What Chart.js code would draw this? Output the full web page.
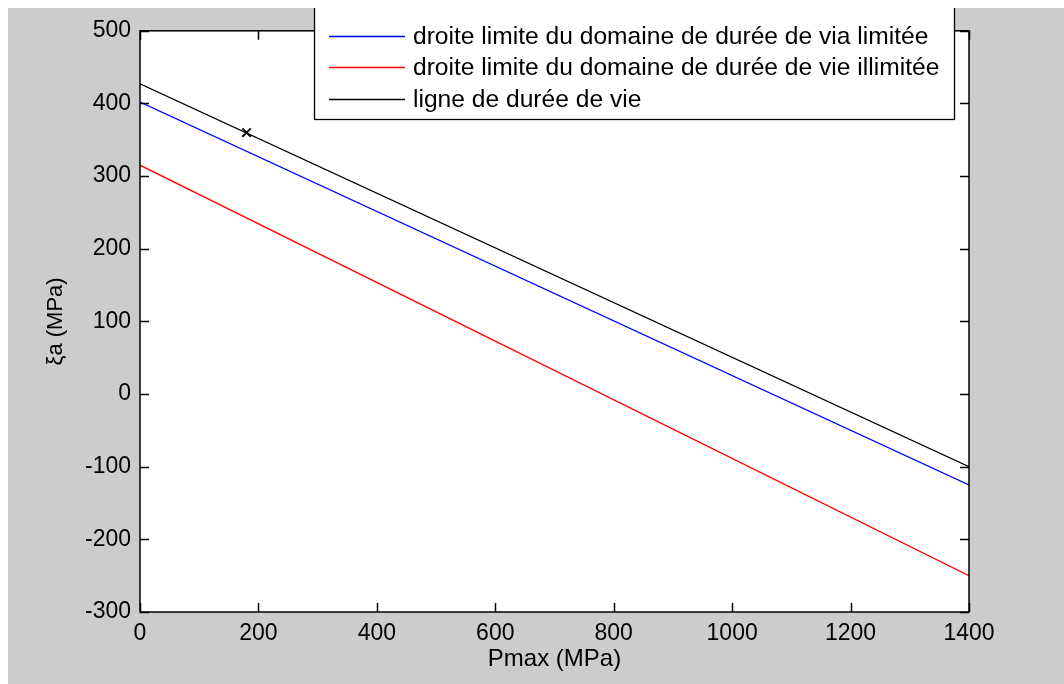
<!DOCTYPE html>
<html>
<head>
<meta charset="utf-8">
<script src="https://cdn.jsdelivr.net/npm/chart.js@4/dist/chart.umd.min.js"></script>
<style>
  html, body { overflow: hidden; }
  body { margin: 8px 0 0 8px; background: #fff; }
  #wrap { width: 1056px; height: 676px; background: #cccccc; }
</style>
</head>
<body>
<div id="wrap"><canvas id="chart"></canvas></div>
<script>
// values
const pmax = [0, 1400];
const limiteeVia = [402, -125];     // droite limite, durée de vie limitée
const illimitee = [315, -250];      // droite limite, durée de vie illimitée
const dureeVie = [427, -100];       // ligne de durée de vie
const pointPmax = [180];
const pointSa = [360];

const labels = [
    'droite limite du domaine de durée de via limitée',
    'droite limite du domaine de durée de vie illimitée',
    'ligne de durée de vie'
];

const FONT = 'Liberation Sans, Arial, sans-serif';

function toXY(xs, ys) {
    return xs.map((x, i) => ({ x: x, y: ys[i] }));
}

function lineSet(label, ys, color) {
    return {
        label: label,
        data: toXY(pmax, ys),
        showLine: true,
        borderColor: color,
        borderWidth: 1.3,
        pointRadius: 0,
        fill: false
    };
}

// white axes box, inward ticks on all four sides, and the legend box
const matlabFrame = {
    id: 'matlabFrame',
    beforeDraw(chart) {
        const { ctx, chartArea: a } = chart;
        ctx.save();
        ctx.fillStyle = '#ffffff';
        ctx.fillRect(a.left, a.top, a.right - a.left, a.bottom - a.top);
        ctx.restore();
    },
    afterDatasetsDraw(chart) {
        const { ctx, chartArea: a } = chart;
        const xs = chart.scales.x, ys = chart.scales.y;
        const tl = 9;
        ctx.save();
        ctx.strokeStyle = '#000';
        ctx.lineWidth = 1.5;
        ctx.beginPath();
        xs.ticks.forEach(t => {
            const px = Math.round(xs.getPixelForValue(t.value)) + 0.5;
            ctx.moveTo(px, a.bottom); ctx.lineTo(px, a.bottom - tl);
            ctx.moveTo(px, a.top); ctx.lineTo(px, a.top + tl);
        });
        ys.ticks.forEach(t => {
            const py = Math.round(ys.getPixelForValue(t.value)) + 0.5;
            ctx.moveTo(a.left, py); ctx.lineTo(a.left + tl, py);
            ctx.moveTo(a.right, py); ctx.lineTo(a.right - tl, py);
        });
        ctx.stroke();
        ctx.strokeRect(a.left, a.top, a.right - a.left, a.bottom - a.top);

        // legend
        const box = { left: 306, top: -5, right: 946, bottom: 111 };
        ctx.fillStyle = '#ffffff';
        ctx.fillRect(box.left, box.top, box.right - box.left, box.bottom - box.top);
        ctx.lineWidth = 1.3;
        ctx.strokeRect(box.left + 0.5, box.top + 0.5, box.right - box.left, box.bottom - box.top);
        const rows = [28, 59, 91];
        ctx.font = '24.6px ' + FONT;
        ctx.textBaseline = 'middle';
        ctx.textAlign = 'left';
        chart.data.datasets.slice(0, 3).forEach((ds, i) => {
            ctx.strokeStyle = ds.borderColor;
            ctx.lineWidth = 1.3;
            ctx.beginPath();
            ctx.moveTo(321, rows[i] + 0.5);
            ctx.lineTo(397, rows[i] + 0.5);
            ctx.stroke();
            ctx.fillStyle = '#000';
            ctx.fillText(ds.label, 405, rows[i] + 1);
        });
        ctx.restore();
    }
};

document.addEventListener('DOMContentLoaded', () => {
    new Chart(document.getElementById('chart'), {
        type: 'scatter',
        data: {
            datasets: [
                lineSet(labels[0], limiteeVia, '#0000ff'),
                lineSet(labels[1], illimitee, '#ff0000'),
                lineSet(labels[2], dureeVie, '#000000'),
                {
                    label: 'point',
                    data: toXY(pointPmax, pointSa),
                    pointStyle: 'crossRot',
                    pointRadius: 6,
                    borderColor: '#000',
                    borderWidth: 1.8,
                    showLine: false
                }
            ]
        },
        options: {
            responsive: true,
            maintainAspectRatio: false,
            animation: false,
            layout: { padding: { left: 0, top: 17, right: 95, bottom: 0 } },
            plugins: {
                legend: { display: false },
                tooltip: { enabled: false }
            },
            scales: {
                x: {
                    type: 'linear',
                    min: 0,
                    max: 1400,
                    grid: { display: false, drawTicks: false },
                    border: { display: false },
                    ticks: {
                        stepSize: 200,
                        color: '#000',
                        padding: 8,
                        font: { family: FONT, size: 23 },
                        callback: v => String(v)
                    },
                    title: {
                        display: true,
                        text: 'Pmax (MPa)',
                        color: '#000',
                        padding: { top: 0, bottom: 10 },
                        font: { family: FONT, size: 24 }
                    },
                    afterFit(scale) { scale.height = 72; }
                },
                y: {
                    type: 'linear',
                    min: -300,
                    max: 500,
                    grid: { display: false, drawTicks: false },
                    border: { display: false },
                    ticks: {
                        stepSize: 100,
                        color: '#000',
                        padding: 9,
                        font: { family: FONT, size: 23 },
                        callback: v => String(v)
                    },
                    title: {
                        display: true,
                        text: 'ξa (MPa)',
                        color: '#000',
                        padding: { top: 35, bottom: 0 },
                        font: { family: FONT, size: 22 }
                    },
                    afterFit(scale) { scale.width = 132; }
                }
            }
        },
        plugins: [matlabFrame]
    });
});
</script>
</body>
</html>
